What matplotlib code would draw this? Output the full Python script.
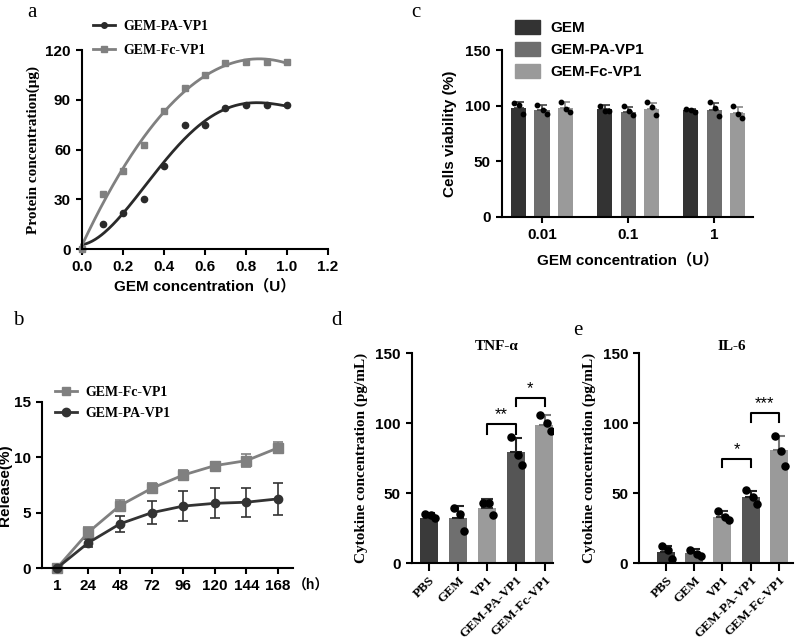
import numpy as np
import matplotlib.pyplot as plt
from matplotlib.patches import Patch
from matplotlib.lines import Line2D

SANS = "Liberation Sans"
SERIF = "Liberation Serif"
SANS_CJK = ["Liberation Sans", "Noto Sans CJK SC"]

# ---- data ----
# panel a: protein loading
a_x = [0.0, 0.1, 0.2, 0.3, 0.4, 0.5, 0.6, 0.7, 0.8, 0.9, 1.0]
a_pa = [0, 15, 22, 30, 50, 75, 75, 85, 87, 87, 87]
a_fc = [0, 33, 47, 63, 83, 97, 105, 112, 113, 113, 113]

# panel b: release
b_time = ["1", "24", "48", "72", "96", "120", "144", "168"]
b_fc = [0, 3.25, 5.65, 7.2, 8.4, 9.25, 9.7, 10.85]
b_fc_err = [0, 0.45, 0.5, 0.45, 0.45, 0.35, 0.6, 0.5]
b_pa = [0, 2.3, 4.0, 5.0, 5.6, 5.85, 5.95, 6.25]
b_pa_err = [0, 0.35, 0.7, 1.05, 1.35, 1.35, 1.3, 1.45]

# panel c: viability
c_conc = ["0.01", "0.1", "1"]
c_groups = ["GEM", "GEM-PA-VP1", "GEM-Fc-VP1"]
c_mean = [[98.2, 96.7, 95.8], [96.0, 94.2, 96.0], [98.2, 97.3, 93.7]]
c_err = [[5, 3.5, 1.5], [5, 5, 6], [5, 5, 5]]
c_pts = [
    [[102, 101, 93], [100, 95, 95], [97, 96, 94]],
    [[101, 96, 93], [100, 95, 92], [103, 98, 91]],
    [[103, 97, 94], [103, 99, 92], [100, 93, 89]],
]

# panels d/e: cytokines
de_groups = ["PBS", "GEM", "VP1", "GEM-PA-VP1", "GEM-Fc-VP1"]
tnf_mean = [32.5, 32, 39.5, 79, 98.5]
tnf_err = [3, 8.5, 6, 10.5, 7.5]
tnf_pts = [[35, 34, 32], [39, 35, 23], [43, 43, 34], [90, 77, 70], [106, 100, 94]]
il6_mean = [8, 7, 33, 47, 80.5]
il6_err = [4, 3, 4, 4.5, 10.5]
il6_pts = [[12, 9, 3], [9.5, 6.5, 5], [37, 33, 30.5], [52, 47, 42], [91, 80, 69]]

plt.rcParams["font.family"] = SANS
plt.rcParams["font.weight"] = "bold"
plt.rcParams["axes.linewidth"] = 1.5
plt.rcParams["xtick.major.width"] = 1.5
plt.rcParams["ytick.major.width"] = 1.5
plt.rcParams["xtick.major.size"] = 4.5
plt.rcParams["ytick.major.size"] = 4.5
plt.rcParams["xtick.labelsize"] = 11
plt.rcParams["ytick.labelsize"] = 11

DARK = "#333333"
MID = "#6e6e6e"
LIGHT = "#9a9a9a"
GREY = "#808080"

fig = plt.figure(figsize=(8, 6.42), dpi=100)


def clean(ax):
    ax.spines["top"].set_visible(False)
    ax.spines["right"].set_visible(False)
    for lab in ax.get_xticklabels() + ax.get_yticklabels():
        lab.set_fontweight("bold")


def letter(x, y, s):
    fig.text(x, y, s, family=SERIF, fontsize=15, va="top", ha="left", fontweight="normal")


# ---- a ----
ax = fig.add_axes([0.1025, 0.612, 0.3075, 0.31])
xs = np.linspace(0, 1, 200)
for ys, col, mk, ms, deg in [(a_pa, "#2a2a2a", "o", 4.5, 4), (a_fc, GREY, "s", 5, 3)]:
    fit = np.poly1d(np.polyfit(a_x, ys, deg))
    ax.plot(xs, fit(xs), color=col, lw=2, clip_on=False)
    ax.plot(a_x, ys, mk, color=col, ms=ms, ls="none", clip_on=False)
ax.set_xlim(0, 1.2)
ax.set_ylim(0, 120)
ax.set_xticks(np.arange(0, 1.21, 0.2))
ax.set_xticklabels([f"{v:.1f}" for v in np.arange(0, 1.21, 0.2)])
ax.set_yticks([0, 30, 60, 90, 120])
ax.set_ylabel("Protein concentration(μg)", family=SERIF, fontsize=11, fontweight="bold", labelpad=4)
ax.set_xlabel("GEM concentration（U）", family=SANS_CJK, fontsize=11, fontweight="bold", labelpad=3)
clean(ax)
h = [Line2D([], [], color="#2a2a2a", marker="o", ms=4, lw=2),
     Line2D([], [], color=GREY, marker="s", ms=4.5, lw=2)]
fig.legend(h, ["GEM-PA-VP1", "GEM-Fc-VP1"], loc="upper left", bbox_to_anchor=(0.1, 0.988),
           frameon=False, handlelength=1.6, handletextpad=0.6, labelspacing=0.75,
           prop={"family": SERIF, "weight": "bold", "size": 10})
letter(0.034, 0.996, "a")

# ---- b ----
ax = fig.add_axes([0.0525, 0.115, 0.3135, 0.259])
bx = np.arange(len(b_time))
ax.errorbar(bx, b_fc, yerr=b_fc_err, color=GREY, marker="s", ms=6.5, lw=2,
            capsize=3.5, elinewidth=1.2, capthick=1.2, clip_on=False)
ax.errorbar(bx, b_pa, yerr=b_pa_err, color=DARK, marker="o", ms=6, lw=2,
            capsize=3.5, elinewidth=1.2, capthick=1.2, clip_on=False)
ax.set_xlim(-0.47, 7.47)
ax.set_ylim(0, 15)
ax.set_xticks(bx)
ax.set_xticklabels(b_time)
ax.set_yticks([0, 5, 10, 15])
ax.set_ylabel("Release(%)", fontsize=11, fontweight="bold", labelpad=1)
clean(ax)
ax.text(1.0, -0.065, "（h）", transform=ax.transAxes, family=SANS_CJK, fontsize=10,
        fontweight="bold", va="top", ha="left")
hb = [Line2D([], [], color=GREY, marker="s", ms=6, lw=2),
      Line2D([], [], color=DARK, marker="o", ms=6, lw=2)]
ax.legend(hb, ["GEM-Fc-VP1", "GEM-PA-VP1"], loc="upper left", bbox_to_anchor=(0.0, 1.17),
          frameon=False, handlelength=1.6, handletextpad=0.6, labelspacing=0.55,
          prop={"family": SERIF, "weight": "bold", "size": 10})
letter(0.016, 0.515, "b")

# ---- c ----
ax = fig.add_axes([0.6275, 0.662, 0.3135, 0.26])
cx = np.arange(len(c_conc))
cols = [DARK, MID, LIGHT]
ecols = [DARK, "#444444", "#888888"]
bw = 0.175
off = 0.273
jit = np.array([-0.3, 0.05, 0.3]) * bw
for g in range(3):
    pos = cx + (g - 1) * off
    ax.bar(pos, c_mean[g], width=bw, color=cols[g], zorder=2)
    ax.errorbar(pos, c_mean[g], yerr=[np.zeros(3), c_err[g]], fmt="none", ecolor=ecols[g],
                capsize=3.5, elinewidth=1.2, capthick=1.2, zorder=3)
    for i in range(3):
        ax.scatter(pos[i] + jit, c_pts[g][i], s=10, color="black", zorder=4)
ax.set_xlim(-0.465, 2.45)
ax.set_ylim(0, 150)
ax.set_xticks(cx)
ax.set_xticklabels(c_conc)
ax.set_yticks([0, 50, 100, 150])
ax.set_ylabel("Cells viability (%)", fontsize=11, fontweight="bold", labelpad=6)
ax.set_xlabel("GEM concentration（U）", family=SANS_CJK, fontsize=11, fontweight="bold", labelpad=8)
clean(ax)
fig.legend([Patch(color=c) for c in cols], c_groups, loc="upper left", bbox_to_anchor=(0.627, 0.99),
           frameon=False, handlelength=1.6, handleheight=1.0, handletextpad=0.7, labelspacing=0.45,
           prop={"family": SANS, "weight": "bold", "size": 11})
letter(0.514, 0.996, "c")

# ---- d / e ----
de_cols = ["#3a3a3a", "#6f6f6f", "#9b9b9b", "#555555", "#9a9a9a"]
de_ecols = ["#222222", "#222222", "#333333", "#222222", "#777777"]


def cyto(ax, mean, err, pts, title, xlim, sigs):
    x = np.arange(len(de_groups))
    ax.bar(x, mean, width=0.64, color=de_cols, zorder=2)
    for i in range(len(x)):
        ax.errorbar(x[i], mean[i], yerr=[[0], [err[i]]], fmt="none", ecolor=de_ecols[i],
                    capsize=4, elinewidth=1.5, capthick=1.5, zorder=3)
        ax.scatter(x[i] + np.array([-0.15, 0.08, 0.22]), pts[i], s=26, color="black", zorder=4)
    ax.set_xlim(*xlim)
    ax.set_ylim(0, 150)
    ax.set_xticks(x)
    ax.set_xticklabels(de_groups, rotation=45, ha="right", rotation_mode="anchor",
                       family=SERIF, fontsize=9.5, fontweight="bold")
    ax.tick_params(axis="x", length=6, pad=2)
    ax.set_yticks([0, 50, 100, 150])
    ax.set_title(title, family=SERIF, fontsize=11, fontweight="bold", pad=-8, x=0.6)
    for i0, i1, yb, yt, star in sigs:
        ax.plot([i0, i0, i1, i1], [yb, yt, yt, yb], color="black", lw=1.5)
        ax.text((i0 + i1) / 2, yt + 1.5, star, ha="center", va="bottom", fontsize=12,
                fontweight="normal")
    ax.set_ylabel("Cytokine concentration (pg/mL)", family=SERIF, fontsize=11,
                  fontweight="bold", labelpad=5)
    clean(ax)
    for lab in ax.get_xticklabels():
        lab.set_family(SERIF)


ax = fig.add_axes([0.515, 0.123, 0.176, 0.327])
cyto(ax, tnf_mean, tnf_err, tnf_pts, "TNF-α", (-0.59, 4.28),
     [(2, 3, 92, 99, "**"), (3, 4, 112, 118, "*")])
letter(0.414, 0.515, "d")

ax = fig.add_axes([0.799, 0.123, 0.192, 0.327])
cyto(ax, il6_mean, il6_err, il6_pts, "IL-6", (-0.96, 4.5),
     [(2, 3, 68.5, 74.5, "*"), (3, 4, 100.5, 107, "***")])
letter(0.717, 0.5, "e")

fig.savefig("out.png", dpi=100)
